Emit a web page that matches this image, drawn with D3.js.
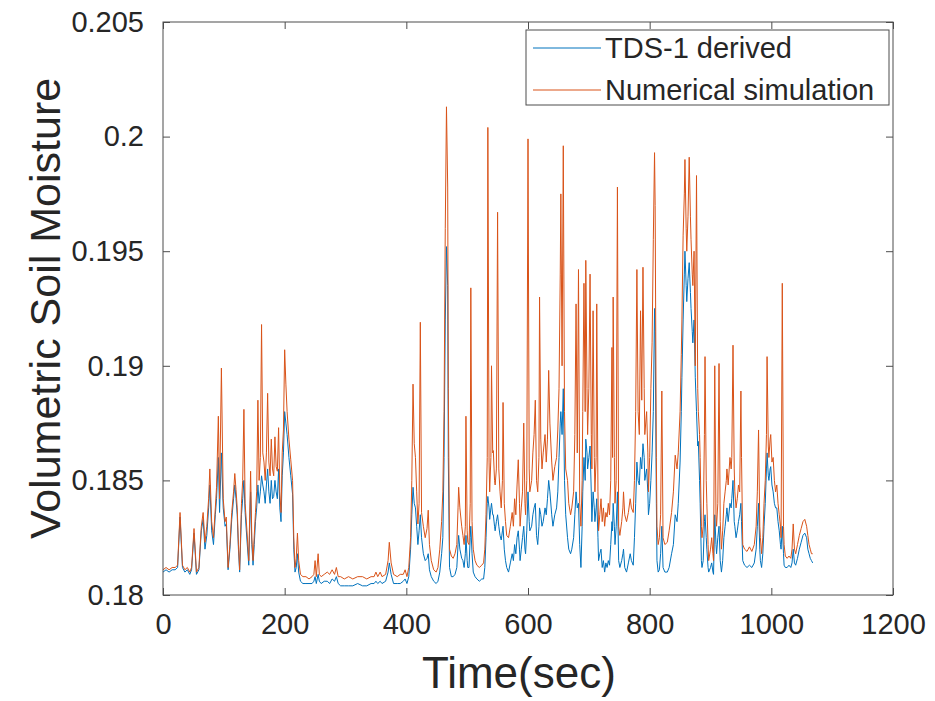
<!DOCTYPE html>
<html>
<head>
<meta charset="utf-8">
<script src="https://cdn.jsdelivr.net/npm/d3@7"></script>
<style>
  body { margin: 0; background: #fff; }
  text { font-family: "Liberation Sans", Arial, Helvetica, sans-serif; fill: #262626; }
  .axis .domain { display: none; }
  .axis line { stroke: #4d4d4d; }
  .line { fill: none; stroke-width: 1; }
</style>
</head>
<body>
<div class="chart"></div>
<script>
// time axis, seconds
var timeSec = [
  0, 5, 10, 15, 20, 24, 28, 32, 36, 40, 44, 47, 51, 55, 59, 63, 66, 69, 72, 75,
  77, 80, 83, 86, 88, 91, 93, 96, 99, 102, 104, 107, 110, 113, 116, 118, 120, 122, 124, 126,
  129, 131, 133, 135, 138, 141, 144, 146, 148, 150, 152, 154, 156, 158, 160, 162, 164, 166, 168, 170,
  172, 174, 176, 178, 180, 182, 184, 186, 188, 190, 192, 194, 196, 198, 200, 202, 204, 207, 210, 213,
  215, 217, 219, 221, 223, 226, 230, 235, 240, 245, 248, 250, 252, 255, 257, 260, 265, 270, 274, 278,
  282, 285, 288, 292, 298, 305, 312, 320, 328, 335, 342, 347, 350, 353, 357, 360, 366, 370, 372, 375,
  379, 385, 390, 395, 398, 401, 404, 407, 409, 411, 413, 415, 417, 419, 421, 423, 425, 428, 431, 434,
  436, 438, 441, 445, 449, 452, 455, 458, 460, 462, 464, 466, 468, 469, 471, 474, 477, 480, 483, 485,
  486, 488, 491, 493, 495, 497, 498, 500, 501, 503, 505, 506, 508, 510, 513, 516, 520, 524, 527, 529,
  531, 533, 534, 536, 537, 539, 540, 542, 543, 545, 546, 548, 550, 552, 554, 556, 558, 559, 561, 563,
  565, 568, 571, 574, 576, 578, 580, 582, 584, 586, 587, 589, 591, 593, 595, 596, 598, 600, 602, 603,
  606, 608, 610, 612, 614, 616, 618, 619, 621, 623, 625, 628, 630, 632, 634, 636, 639, 641, 644, 647,
  649, 651, 653, 654, 656, 658, 660, 662, 665, 667, 670, 672, 675, 677, 679, 681, 683, 685, 687, 689,
  690, 692, 694, 695, 697, 698, 700, 702, 704, 705, 707, 709, 710, 712, 713, 715, 716, 718, 720, 722,
  724, 726, 728, 730, 732, 734, 736, 738, 739, 740, 742, 743, 745, 747, 749, 751, 754, 756, 757, 759,
  762, 765, 768, 770, 773, 775, 777, 779, 781, 783, 785, 787, 789, 791, 792, 795, 797, 798, 800, 802,
  804, 806, 808, 809, 811, 812, 814, 816, 818, 820, 822, 825, 829, 832, 836, 839, 842, 845, 847, 850,
  852, 853, 855, 857, 858, 860, 861, 863, 865, 867, 868, 870, 871, 873, 875, 877, 879, 880, 882, 883,
  885, 886, 888, 890, 891, 893, 894, 896, 897, 900, 902, 904, 905, 907, 909, 910, 912, 914, 916, 918,
  920, 922, 924, 926, 927, 929, 932, 934, 935, 937, 939, 940, 942, 944, 946, 948, 950, 951, 953, 956,
  960, 964, 968, 972, 975, 977, 979, 981, 982, 984, 986, 988, 990, 992, 993, 995, 996, 998, 999, 1001,
  1003, 1005, 1007, 1009, 1011, 1013, 1015, 1016, 1018, 1020, 1021, 1023, 1026, 1029, 1032, 1034, 1036, 1038, 1040, 1043,
  1046, 1049, 1052, 1055, 1058, 1060, 1062, 1064, 1066, 1068
];

// TDS-1 derived soil moisture
var tdsDerived = [
  0.1810, 0.1811, 0.1810, 0.1811, 0.1811, 0.1812, 0.1834, 0.1812, 0.1810, 0.1811, 0.1809, 0.1811, 0.1827, 0.1809, 0.1811, 0.1828, 0.1833, 0.1820, 0.1826, 0.1838,
  0.1848, 0.1828, 0.1822, 0.1835, 0.1842, 0.1860, 0.1836, 0.1862, 0.1838, 0.1830, 0.1831, 0.1811, 0.1820, 0.1833, 0.1842, 0.1848, 0.1842, 0.1835, 0.1820, 0.1810,
  0.1835, 0.1842, 0.1850, 0.1836, 0.1824, 0.1813, 0.1845, 0.1822, 0.1813, 0.1822, 0.1832, 0.1838, 0.1848, 0.1840, 0.1845, 0.1852, 0.1848, 0.1845, 0.1840, 0.1848,
  0.1855, 0.1845, 0.1840, 0.1850, 0.1842, 0.1843, 0.1850, 0.1845, 0.1842, 0.1855, 0.1838, 0.1832, 0.1852, 0.1862, 0.1880, 0.1875, 0.1870, 0.1860, 0.1852, 0.1844,
  0.1820, 0.1810, 0.1812, 0.1818, 0.1810, 0.1806, 0.1805, 0.1805, 0.1805, 0.1805, 0.1806, 0.1808, 0.1805, 0.1809, 0.1806, 0.1805, 0.1806, 0.1806, 0.1805, 0.1807,
  0.1806, 0.1808, 0.1805, 0.1804, 0.1804, 0.1804, 0.1804, 0.1805, 0.1804, 0.1804, 0.1805, 0.1805, 0.1806, 0.1805, 0.1806, 0.1805, 0.1806, 0.1810, 0.1814, 0.1809,
  0.1805, 0.1805, 0.1805, 0.1806, 0.1807, 0.1805, 0.1808, 0.1820, 0.1835, 0.1847, 0.1840, 0.1838, 0.1830, 0.1822, 0.1828, 0.1835, 0.1825, 0.1818, 0.1815, 0.1816,
  0.1818, 0.1811, 0.1808, 0.1806, 0.1805, 0.1806, 0.1810, 0.1818, 0.1825, 0.1860, 0.1920, 0.1952, 0.1935, 0.1860, 0.1812, 0.1808, 0.1808, 0.1809, 0.1812, 0.1822,
  0.1826, 0.1820, 0.1816, 0.1815, 0.1812, 0.1818, 0.1826, 0.1815, 0.1812, 0.1812, 0.1825, 0.1830, 0.1818, 0.1810, 0.1808, 0.1807, 0.1806, 0.1807, 0.1807, 0.1812,
  0.1825, 0.1840, 0.1843, 0.1838, 0.1833, 0.1838, 0.1840, 0.1835, 0.1835, 0.1830, 0.1828, 0.1832, 0.1835, 0.1830, 0.1826, 0.1824, 0.1828, 0.1830, 0.1820, 0.1815,
  0.1812, 0.1810, 0.1814, 0.1818, 0.1815, 0.1822, 0.1818, 0.1825, 0.1828, 0.1820, 0.1815, 0.1820, 0.1825, 0.1830, 0.1820, 0.1818, 0.1828, 0.1845, 0.1832, 0.1828,
  0.1830, 0.1835, 0.1838, 0.1840, 0.1826, 0.1822, 0.1830, 0.1838, 0.1835, 0.1830, 0.1832, 0.1838, 0.1835, 0.1842, 0.1850, 0.1845, 0.1835, 0.1830, 0.1835, 0.1838,
  0.1845, 0.1860, 0.1875, 0.1880, 0.1870, 0.1890, 0.1850, 0.1835, 0.1825, 0.1820, 0.1818, 0.1820, 0.1825, 0.1835, 0.1845, 0.1838, 0.1840, 0.1822, 0.1812, 0.1830,
  0.1845, 0.1860, 0.1850, 0.1868, 0.1862, 0.1855, 0.1860, 0.1865, 0.1845, 0.1832, 0.1845, 0.1838, 0.1832, 0.1838, 0.1842, 0.1825, 0.1815, 0.1818, 0.1820, 0.1812,
  0.1815, 0.1810, 0.1814, 0.1812, 0.1815, 0.1813, 0.1822, 0.1832, 0.1828, 0.1840, 0.1830, 0.1822, 0.1830, 0.1845, 0.1815, 0.1812, 0.1815, 0.1818, 0.1820, 0.1812,
  0.1810, 0.1814, 0.1818, 0.1815, 0.1813, 0.1825, 0.1840, 0.1858, 0.1850, 0.1848, 0.1860, 0.1855, 0.1866, 0.1860, 0.1850, 0.1855, 0.1845, 0.1835, 0.1840, 0.1850,
  0.1862, 0.1880, 0.1925, 0.1915, 0.1840, 0.1815, 0.1810, 0.1811, 0.1818, 0.1830, 0.1812, 0.1810, 0.1810, 0.1812, 0.1818, 0.1822, 0.1835, 0.1832, 0.1840, 0.1858,
  0.1880, 0.1895, 0.1920, 0.1940, 0.1950, 0.1935, 0.1928, 0.1938, 0.1945, 0.1932, 0.1925, 0.1915, 0.1910, 0.1920, 0.1895, 0.1880, 0.1865, 0.1867, 0.1850, 0.1840,
  0.1815, 0.1812, 0.1815, 0.1832, 0.1835, 0.1825, 0.1820, 0.1812, 0.1810, 0.1812, 0.1814, 0.1810, 0.1809, 0.1835, 0.1822, 0.1818, 0.1825, 0.1830, 0.1815, 0.1810,
  0.1815, 0.1825, 0.1830, 0.1835, 0.1838, 0.1832, 0.1840, 0.1838, 0.1842, 0.1850, 0.1832, 0.1830, 0.1825, 0.1828, 0.1832, 0.1835, 0.1840, 0.1832, 0.1815, 0.1813,
  0.1812, 0.1813, 0.1812, 0.1814, 0.1820, 0.1830, 0.1840, 0.1820, 0.1815, 0.1812, 0.1818, 0.1830, 0.1840, 0.1855, 0.1862, 0.1852, 0.1850, 0.1855, 0.1856, 0.1848,
  0.1845, 0.1840, 0.1838, 0.1838, 0.1832, 0.1828, 0.1822, 0.1820, 0.1830, 0.1818, 0.1813, 0.1812, 0.1812, 0.1813, 0.1812, 0.1814, 0.1820, 0.1814, 0.1813, 0.1816,
  0.1820, 0.1823, 0.1826, 0.1827, 0.1825, 0.1820, 0.1818, 0.1816, 0.1815, 0.1814
];

// numerical simulation soil moisture
var numericalSim = [
  0.1811, 0.1812, 0.1811, 0.1812, 0.1812, 0.1813, 0.1836, 0.1813, 0.1811, 0.1812, 0.1810, 0.1812, 0.1829, 0.1810, 0.1812, 0.1830, 0.1836, 0.1823, 0.1830, 0.1842,
  0.1855, 0.1832, 0.1825, 0.1838, 0.1847, 0.1878, 0.1842, 0.1899, 0.1842, 0.1832, 0.1834, 0.1812, 0.1822, 0.1836, 0.1845, 0.1853, 0.1846, 0.1838, 0.1822, 0.1811,
  0.1840, 0.1850, 0.1881, 0.1840, 0.1828, 0.1815, 0.1854, 0.1825, 0.1815, 0.1826, 0.1836, 0.1845, 0.1885, 0.1850, 0.1860, 0.1918, 0.1862, 0.1858, 0.1850, 0.1862,
  0.1888, 0.1858, 0.1852, 0.1868, 0.1855, 0.1852, 0.1869, 0.1856, 0.1854, 0.1873, 0.1845, 0.1836, 0.1862, 0.1872, 0.1907, 0.1892, 0.1880, 0.1868, 0.1859, 0.1850,
  0.1825, 0.1812, 0.1816, 0.1827, 0.1815, 0.1809, 0.1808, 0.1808, 0.1807, 0.1808, 0.1809, 0.1815, 0.1808, 0.1818, 0.1809, 0.1808, 0.1809, 0.1810, 0.1809, 0.1811,
  0.1809, 0.1812, 0.1808, 0.1808, 0.1807, 0.1808, 0.1807, 0.1808, 0.1808, 0.1807, 0.1808, 0.1808, 0.1810, 0.1808, 0.1810, 0.1808, 0.1809, 0.1815, 0.1823, 0.1814,
  0.1809, 0.1808, 0.1809, 0.1809, 0.1811, 0.1808, 0.1812, 0.1825, 0.1850, 0.1892, 0.1866, 0.1860, 0.1845, 0.1831, 0.1840, 0.1919, 0.1836, 0.1830, 0.1825, 0.1829,
  0.1837, 0.1822, 0.1815, 0.1811, 0.1810, 0.1812, 0.1820, 0.1832, 0.1845, 0.1880, 0.1960, 0.2013, 0.1978, 0.1890, 0.1820, 0.1817, 0.1816, 0.1818, 0.1822, 0.1838,
  0.1847, 0.1838, 0.1830, 0.1826, 0.1822, 0.1830, 0.1878, 0.1828, 0.1823, 0.1822, 0.1840, 0.1934, 0.1832, 0.1820, 0.1815, 0.1813, 0.1812, 0.1813, 0.1814, 0.1820,
  0.1835, 0.1860, 0.2004, 0.1858, 0.1845, 0.1860, 0.1900, 0.1862, 0.1863, 0.1850, 0.1848, 0.1855, 0.1967, 0.1855, 0.1845, 0.1838, 0.1850, 0.1884, 0.1840, 0.1832,
  0.1826, 0.1825, 0.1830, 0.1836, 0.1830, 0.1842, 0.1835, 0.1848, 0.1859, 0.1840, 0.1830, 0.1838, 0.1845, 0.1875, 0.1840, 0.1835, 0.1850, 0.1999, 0.1855, 0.1845,
  0.1850, 0.1862, 0.1870, 0.1885, 0.1850, 0.1845, 0.1860, 0.1930, 0.1868, 0.1855, 0.1862, 0.1870, 0.1858, 0.1868, 0.1898, 0.1875, 0.1858, 0.1850, 0.1856, 0.1860,
  0.1872, 0.1890, 0.1940, 0.1975, 0.1900, 0.1996, 0.1880, 0.1855, 0.1850, 0.1840, 0.1835, 0.1838, 0.1845, 0.1870, 0.1927, 0.1862, 0.1942, 0.1840, 0.1830, 0.1850,
  0.1880, 0.1936, 0.1880, 0.1946, 0.1890, 0.1870, 0.1890, 0.1940, 0.1870, 0.1855, 0.1924, 0.1860, 0.1845, 0.1860, 0.1927, 0.1845, 0.1828, 0.1835, 0.1842, 0.1832,
  0.1838, 0.1830, 0.1836, 0.1834, 0.1840, 0.1835, 0.1850, 0.1908, 0.1860, 0.1930, 0.1860, 0.1840, 0.1850, 0.1978, 0.1830, 0.1826, 0.1832, 0.1838, 0.1845, 0.1835,
  0.1832, 0.1836, 0.1842, 0.1838, 0.1836, 0.1850, 0.1880, 0.1942, 0.1880, 0.1870, 0.1924, 0.1885, 0.1943, 0.1890, 0.1870, 0.1880, 0.1862, 0.1845, 0.1860, 0.1890,
  0.1910, 0.1955, 0.1993, 0.1970, 0.1860, 0.1830, 0.1822, 0.1825, 0.1835, 0.1889, 0.1825, 0.1822, 0.1823, 0.1828, 0.1836, 0.1845, 0.1861, 0.1855, 0.1862, 0.1880,
  0.1905, 0.1920, 0.1957, 0.1975, 0.1990, 0.1960, 0.1950, 0.1965, 0.1991, 0.1965, 0.1955, 0.1940, 0.1935, 0.1950, 0.1900, 0.1983, 0.1890, 0.1880, 0.1870, 0.1860,
  0.1830, 0.1825, 0.1830, 0.1870, 0.1904, 0.1850, 0.1840, 0.1822, 0.1815, 0.1820, 0.1825, 0.1818, 0.1815, 0.1900, 0.1835, 0.1830, 0.1840, 0.1901, 0.1832, 0.1820,
  0.1828, 0.1840, 0.1845, 0.1850, 0.1855, 0.1848, 0.1860, 0.1855, 0.1860, 0.1909, 0.1855, 0.1845, 0.1838, 0.1842, 0.1848, 0.1845, 0.1889, 0.1860, 0.1822, 0.1820,
  0.1819, 0.1821, 0.1819, 0.1822, 0.1830, 0.1845, 0.1872, 0.1830, 0.1825, 0.1818, 0.1825, 0.1840, 0.1850, 0.1870, 0.1904, 0.1865, 0.1860, 0.1868, 0.1870, 0.1858,
  0.1860, 0.1850, 0.1845, 0.1848, 0.1840, 0.1835, 0.1830, 0.1825, 0.1936, 0.1830, 0.1822, 0.1817, 0.1816, 0.1817, 0.1816, 0.1820, 0.1831, 0.1820, 0.1818, 0.1822,
  0.1826, 0.1829, 0.1832, 0.1833, 0.1830, 0.1826, 0.1822, 0.1820, 0.1818, 0.1818
];

var xTicks = [0, 200, 400, 600, 800, 1000, 1200];
var yTicks = [0.18, 0.185, 0.19, 0.195, 0.2, 0.205];
var seriesNames = ["TDS-1 derived", "Numerical simulation"];
var seriesColors = ["#0072BD", "#D95319"];

var margin = {top: 22, right: 42, bottom: 106, left: 163},
    fullWidth = 935,
    fullHeight = 701,
    width  = fullWidth - margin.left - margin.right,
    height = fullHeight - margin.top - margin.bottom;

var xScale = d3.scaleLinear().domain([0, 1200]).range([0, width]);
var yScale = d3.scaleLinear().domain([0.18, 0.205]).range([height, 0]);

var svg = d3.select(".chart").append("svg")
  .attr("width", fullWidth)
  .attr("height", fullHeight)
  .append("g")
  .attr("transform", "translate(" + margin.left + "," + margin.top + ")");

var tick = 7;

svg.append("g")
  .attr("class", "axis")
  .attr("transform", "translate(0," + height + ")")
  .call(d3.axisBottom(xScale).tickValues(xTicks).tickSize(-tick).tickPadding(18).tickFormat(d3.format("d")))
  .selectAll("text").style("font-size", "29px");

svg.append("g")
  .attr("class", "axis")
  .call(d3.axisTop(xScale).tickValues(xTicks).tickSize(-tick).tickFormat(""));

svg.append("g")
  .attr("class", "axis")
  .call(d3.axisLeft(yScale).tickValues(yTicks).tickSize(-tick).tickPadding(19).tickFormat(function(d) { return d3.format("")(+d.toFixed(3)); }))
  .selectAll("text").style("font-size", "29px");

svg.append("g")
  .attr("class", "axis")
  .attr("transform", "translate(" + width + ",0)")
  .call(d3.axisRight(yScale).tickValues(yTicks).tickSize(-tick).tickFormat(""));

var lineFor = function(values) {
  return d3.line()
    .x(function(d, i) { return xScale(timeSec[i]); })
    .y(function(d) { return yScale(d); })(values);
};

svg.append("path")
  .attr("class", "line")
  .attr("stroke", seriesColors[0])
  .attr("d", lineFor(tdsDerived));

svg.append("path")
  .attr("class", "line")
  .attr("stroke", seriesColors[1])
  .attr("d", lineFor(numericalSim));

svg.append("rect")
  .attr("width", width)
  .attr("height", height)
  .attr("fill", "none")
  .attr("stroke", "#4d4d4d");

svg.append("text")
  .attr("x", xScale(585))
  .attr("y", height + 93)
  .attr("text-anchor", "middle")
  .style("font-size", "44px")
  .text("Time(sec)");

svg.append("text")
  .attr("transform", "translate(-103," + yScale(0.1925) + ") rotate(-90)")
  .attr("text-anchor", "middle")
  .style("font-size", "43px")
  .text("Volumetric Soil Moisture");

// legend
var legend = svg.append("g")
  .attr("transform", "translate(" + (526 - margin.left) + "," + (30 - margin.top) + ")");

legend.append("rect")
  .attr("width", 363)
  .attr("height", 75)
  .attr("fill", "#fff")
  .attr("stroke", "#4d4d4d");

seriesNames.forEach(function(name, i) {
  var row = legend.append("g").attr("transform", "translate(0," + (18 + i * 42) + ")");
  row.append("line")
    .attr("x1", 7).attr("x2", 75)
    .attr("stroke", seriesColors[i]);
  row.append("text")
    .attr("x", 79)
    .attr("dy", "0.35em")
    .style("font-size", "29px")
    .text(name);
});
</script>
</body>
</html>
